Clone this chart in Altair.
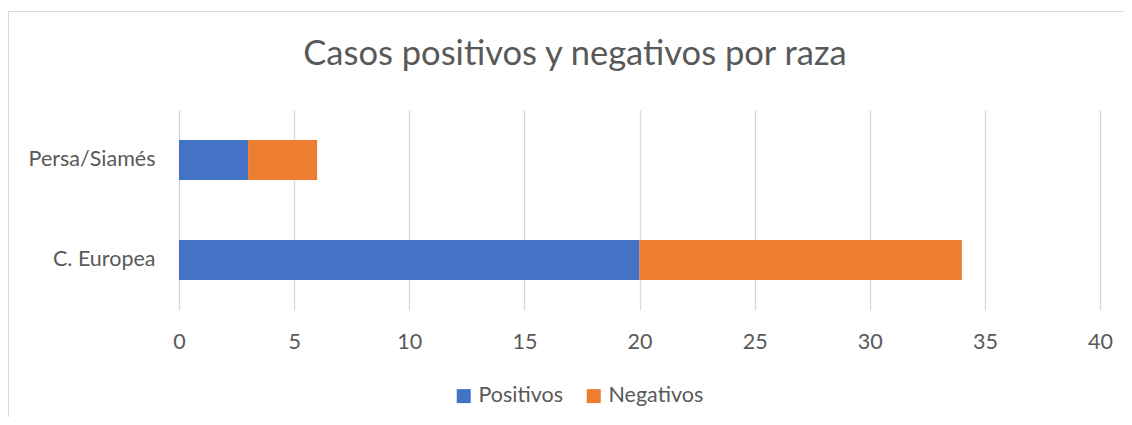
import altair as alt
import pandas as pd

razas = ["Persa/Siamés", "C. Europea"]
positivos = [3, 20]
negativos = [3, 14]
series = ["Positivos", "Negativos"]
colores = ["#4472C4", "#ED7D31"]
titulo = "Casos positivos y negativos por raza"

rows = []
for i, r in enumerate(razas):
    rows.append({"raza": r, "serie": series[0], "valor": positivos[i], "orden": 0})
    rows.append({"raza": r, "serie": series[1], "valor": negativos[i], "orden": 1})
df = pd.DataFrame(rows)

FONT = "Lato"
GRAY = "#595959"

bars = alt.Chart(df).mark_bar().encode(
    y=alt.Y("raza:N", sort=razas, title=None,
            scale=alt.Scale(paddingInner=0.6, paddingOuter=0.3),
            axis=alt.Axis(domain=False, ticks=False, labelPadding=24,
                          labelFontSize=21.5, labelColor=GRAY, labelFont=FONT)),
    x=alt.X("valor:Q", stack="zero", title=None,
            scale=alt.Scale(domain=[0, 40], nice=False),
            axis=alt.Axis(values=list(range(0, 41, 5)), domain=False, ticks=False,
                          grid=True, gridColor="#d9d9d9", gridWidth=1.3,
                          labelFlush=False,
                          labelPadding=21, labelFontSize=21.5, labelColor=GRAY,
                          labelFont=FONT)),
    color=alt.Color("serie:N", sort=series,
                    scale=alt.Scale(domain=series, range=colores),
                    legend=alt.Legend(title=None, orient="none", direction="horizontal",
                                      legendX=274, legendY=275, symbolType="square",
                                      symbolSize=196, symbolStrokeWidth=0,
                                      labelFontSize=21.5, labelColor=GRAY, labelFont=FONT,
                                      columnPadding=19, symbolOffset=0, labelOffset=4)),
    order=alt.Order("orden:Q"),
)

one = pd.DataFrame({"t": [titulo]})
title = alt.Chart(one).mark_text(fontSize=34.5, font=FONT, color=GRAY, baseline="middle",
                                 align="center").encode(
    x=alt.value(396), y=alt.value(-55), text="t:N")

frame_top = alt.Chart(one).mark_rule(color="#d9d9d9", strokeWidth=1).encode(
    x=alt.value(-171), x2=alt.value(1000), y=alt.value(-98.5))
frame_left = alt.Chart(one).mark_rule(color="#d9d9d9", strokeWidth=1).encode(
    x=alt.value(-170.5), y=alt.value(-99), y2=alt.value(400))

chart = alt.layer(frame_top, frame_left, bars, title).properties(
    width=921, height=200,
    autosize=alt.AutoSizeParams(type="none"),
    padding={"left": 171, "top": 102, "right": 24, "bottom": 107},
).configure_view(stroke=None)

chart.save("out.html", embed_options={"renderer": "svg", "actions": False})
